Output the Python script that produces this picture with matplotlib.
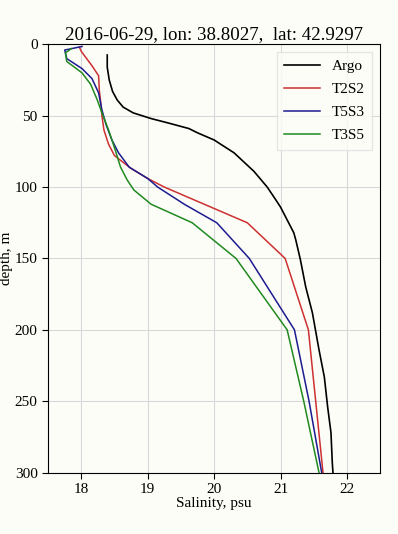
import matplotlib
matplotlib.use("Agg")
import matplotlib.pyplot as plt

plt.rcParams['font.family'] = ['Liberation Serif', 'DejaVu Serif']

title = "2016-06-29, lon: 38.8027,  lat: 42.9297"

argo_depth = [7.5, 16, 25, 33, 39, 44, 48, 52, 55, 59, 62, 67, 76, 89, 100, 109, 114, 123, 132, 137, 151, 170, 188, 214, 233, 254, 272, 293, 300]
argo_sal = [18.39, 18.39, 18.42, 18.47, 18.54, 18.63, 18.78, 19.05, 19.3, 19.62, 19.75, 20.0, 20.3, 20.6, 20.8, 20.93, 21.0, 21.1, 21.2, 21.23, 21.3, 21.38, 21.48, 21.58, 21.66, 21.71, 21.76, 21.78, 21.79]

t2s2_depth = [2, 5, 10, 15, 22, 32, 40, 50, 60, 70, 78, 87, 94, 100, 111, 125, 150, 200, 250, 300]
t2s2_sal = [17.97, 18.0, 18.08, 18.16, 18.26, 18.27, 18.29, 18.31, 18.34, 18.41, 18.50, 18.75, 19.0, 19.25, 19.8, 20.5, 21.07, 21.42, 21.53, 21.64]

t5s3_depth = [1.5, 4, 10, 17, 24, 34, 46, 56, 67, 76, 86, 94, 100, 112, 125, 150, 200, 250, 300]
t5s3_sal = [18.01, 17.75, 17.78, 18.01, 18.16, 18.26, 18.31, 18.37, 18.46, 18.56, 18.72, 19.0, 19.15, 19.55, 20.04, 20.53, 21.21, 21.43, 21.62]

t3s5_depth = [3, 6, 12, 20, 28, 39, 48, 60, 74, 86, 95, 102, 112, 125, 150, 200, 250, 300]
t3s5_sal = [17.85, 17.76, 17.78, 18.01, 18.14, 18.24, 18.31, 18.41, 18.51, 18.59, 18.69, 18.79, 19.05, 19.67, 20.33, 21.1, 21.35, 21.58]

xticks = [18, 19, 20, 21, 22]
yticks = [0, 50, 100, 150, 200, 250, 300]

bg = '#fdfdf8'
fig = plt.figure(figsize=(3.98, 5.34), dpi=100, facecolor=bg)
ax = fig.add_axes([0.121, 0.115, 0.834, 0.802], facecolor=bg)

ax.plot(argo_sal, argo_depth, color='black', lw=1.2, label='Argo')
ax.plot(t2s2_sal, t2s2_depth, color='#cc3030', lw=1.1, label='T2S2')
ax.plot(t5s3_sal, t5s3_depth, color='#1c1c90', lw=1.1, label='T5S3')
ax.plot(t3s5_sal, t3s5_depth, color='#208a20', lw=1.1, label='T3S5')

ax.set_xlim(17.5, 22.5)
ax.set_ylim(300, 0)
ax.set_xticks(xticks)
ax.set_yticks(yticks)
ax.grid(True, color='#d8d8d8', lw=0.8)
ax.tick_params(labelsize=11, direction='out', length=4)
ax.set_xlabel('Salinity, psu', fontsize=11, labelpad=1)
ax.set_ylabel('depth, m', fontsize=11)
ax.yaxis.set_label_coords(-0.106, 0.5)
ax.set_title(title, fontsize=13.6, pad=4)

leg = ax.legend(loc='upper right', fontsize=11, frameon=True, handlelength=2.3,
                borderpad=0.5, labelspacing=0.6, fancybox=False)
leg.get_frame().set_edgecolor('#e0e0e0')
leg.get_frame().set_facecolor(bg)

fig.savefig('out.png', dpi=100, facecolor=bg)
